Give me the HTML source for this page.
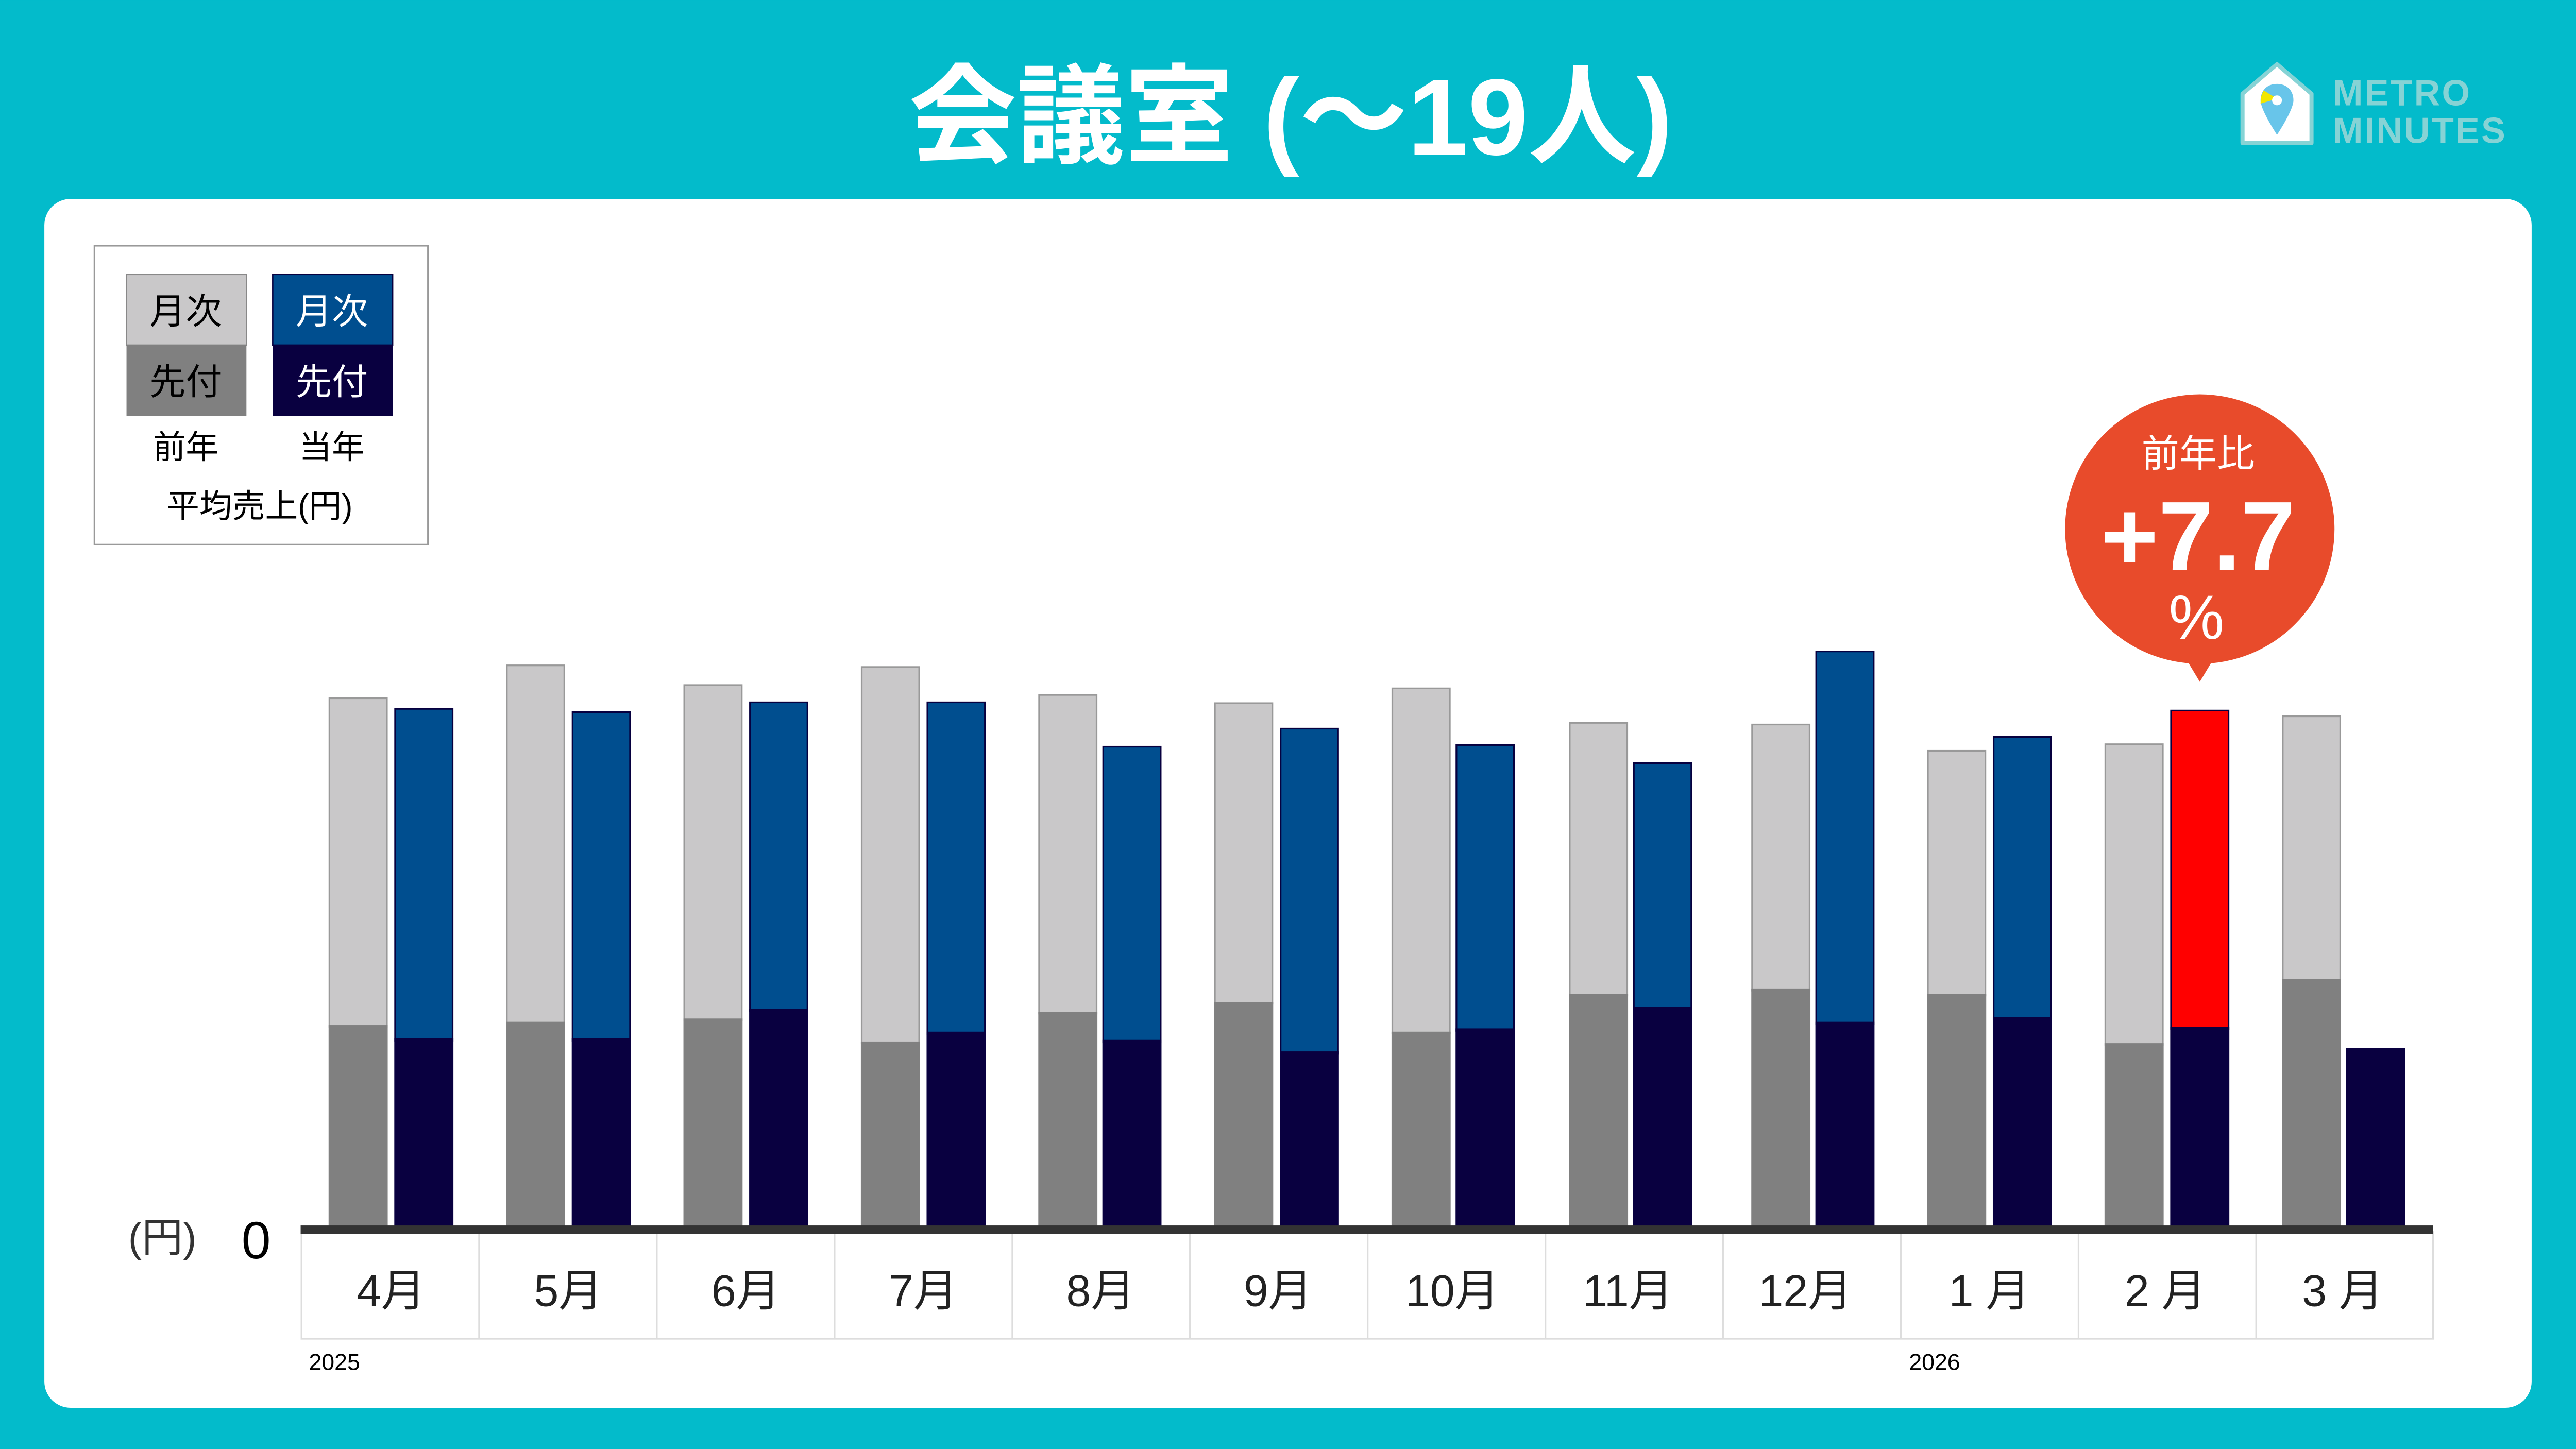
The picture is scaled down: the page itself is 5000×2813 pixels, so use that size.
<!DOCTYPE html>
<html><head><meta charset="utf-8"><style>
html,body{margin:0;padding:0;background:#03BBCB;}
svg{display:block;}
text{font-family:"Liberation Sans","Noto Sans CJK JP",sans-serif;}
</style></head><body>
<svg width="5000" height="2813" viewBox="0 0 1568 882" xmlns="http://www.w3.org/2000/svg">
<rect width="1568" height="882" fill="#03BBCB"/>
<text x="553" y="94" font-size="66" font-weight="bold" fill="#fff" textLength="465" lengthAdjust="spacingAndGlyphs">会議室 (～19人)</text>
<!-- logo -->
<g>
<path d="M1365,57 L1386,39 L1407,57 L1407,87 L1365,87 Z" fill="#fff" stroke="#86D3D5" stroke-width="2.5" stroke-linejoin="round"/>
<path d="M1386,51 c-6,0 -10,4 -10,10 c0,6 10,21 10,21 c0,0 10,-15 10,-21 c0,-6 -4,-10 -10,-10z" fill="#68C5EA"/>
<path d="M1378,55 c-2,3 -2,6 -2,8 l10,-3z" fill="#F2E600"/>
<circle cx="1386" cy="61" r="3" fill="#fff"/>
<text x="1420" y="64" font-size="22" font-weight="bold" fill="#86D3D5" letter-spacing="1">METRO</text>
<text x="1420" y="87" font-size="22" font-weight="bold" fill="#86D3D5" letter-spacing="1">MINUTES</text>
</g>
<rect x="27" y="121" width="1514" height="736" rx="16" fill="#fff"/>
<!-- legend -->
<rect x="57.5" y="149.5" width="203" height="182" fill="#fff" stroke="#999" stroke-width="1"/>
<rect x="77" y="167" width="73" height="43" fill="#C9C8C9" stroke="#888" stroke-width="0.8"/>
<rect x="77" y="210" width="73" height="43" fill="#808080"/>
<rect x="166" y="167" width="73" height="43" fill="#004E8F" stroke="#07003F" stroke-width="0.8"/>
<rect x="166" y="210" width="73" height="43" fill="#090040"/>
<text x="113" y="197" text-anchor="middle" font-size="22" fill="#000">月次</text>
<text x="113" y="240" text-anchor="middle" font-size="22" fill="#000">先付</text>
<text x="202" y="197" text-anchor="middle" font-size="22" fill="#fff">月次</text>
<text x="202" y="240" text-anchor="middle" font-size="22" fill="#fff">先付</text>
<text x="113" y="279" text-anchor="middle" font-size="20" fill="#000">前年</text>
<text x="202" y="279" text-anchor="middle" font-size="20" fill="#000">当年</text>
<text x="158" y="315" text-anchor="middle" font-size="20" fill="#000">平均売上(円)</text>
<!-- bars -->
<g stroke-width="1">
<g fill="#C9C8C9" stroke="#999">
<rect x="200.5" y="425" width="35" height="200"/>
<rect x="308.5" y="405" width="35" height="218"/>
<rect x="416.5" y="417" width="35" height="204"/>
<rect x="524.5" y="406" width="35" height="229"/>
<rect x="632.5" y="423" width="35" height="194"/>
<rect x="739.5" y="428" width="35" height="183"/>
<rect x="847.5" y="419" width="35" height="210"/>
<rect x="955.5" y="440" width="35" height="166"/>
<rect x="1066.5" y="441" width="35" height="162"/>
<rect x="1173.5" y="457" width="35" height="149"/>
<rect x="1281.5" y="453" width="35" height="183"/>
<rect x="1389.5" y="436" width="35" height="161"/>
</g>
<g fill="#808080" stroke="none">
<rect x="200" y="624" width="36" height="124"/>
<rect x="308" y="622" width="36" height="126"/>
<rect x="416" y="620" width="36" height="128"/>
<rect x="524" y="634" width="36" height="114"/>
<rect x="632" y="616" width="36" height="132"/>
<rect x="739" y="610" width="36" height="138"/>
<rect x="847" y="628" width="36" height="120"/>
<rect x="955" y="605" width="36" height="143"/>
<rect x="1066" y="602" width="36" height="146"/>
<rect x="1173" y="605" width="36" height="143"/>
<rect x="1281" y="635" width="36" height="113"/>
<rect x="1389" y="596" width="36" height="152"/>
</g>
<g fill="#004E8F" stroke="#07003F">
<rect x="240.5" y="431.5" width="35" height="202"/>
<rect x="348.5" y="433.5" width="35" height="200"/>
<rect x="456.5" y="427.5" width="35" height="188"/>
<rect x="564.5" y="427.5" width="35" height="202"/>
<rect x="671.5" y="454.5" width="35" height="180"/>
<rect x="779.5" y="443.5" width="35" height="198"/>
<rect x="886.5" y="453.5" width="35" height="174"/>
<rect x="994.5" y="464.5" width="35" height="150"/>
<rect x="1105.5" y="396.5" width="35" height="227"/>
<rect x="1213.5" y="448.5" width="35" height="172"/>
<rect x="1321.5" y="432.5" width="35" height="194" fill="#FF0000"/>
</g>
<g fill="#090040" stroke="none">
<rect x="240" y="632" width="36" height="116"/>
<rect x="348" y="632" width="36" height="116"/>
<rect x="456" y="614" width="36" height="134"/>
<rect x="564" y="628" width="36" height="120"/>
<rect x="671" y="633" width="36" height="115"/>
<rect x="779" y="640" width="36" height="108"/>
<rect x="886" y="626" width="36" height="122"/>
<rect x="994" y="613" width="36" height="135"/>
<rect x="1105" y="622" width="36" height="126"/>
<rect x="1213" y="619" width="36" height="129"/>
<rect x="1321" y="625" width="36" height="123"/>
<rect x="1428" y="638" width="36" height="110"/>
</g>
</g>
<!-- category table -->
<g stroke="#DDDDDD" stroke-width="1" fill="none">
<rect x="183.5" y="750" width="1297.5" height="65"/>
<line x1="291.6" y1="750" x2="291.6" y2="815"/><line x1="399.8" y1="750" x2="399.8" y2="815"/>
<line x1="508" y1="750" x2="508" y2="815"/><line x1="616.2" y1="750" x2="616.2" y2="815"/>
<line x1="724.3" y1="750" x2="724.3" y2="815"/><line x1="832.5" y1="750" x2="832.5" y2="815"/>
<line x1="940.7" y1="750" x2="940.7" y2="815"/><line x1="1048.8" y1="750" x2="1048.8" y2="815"/>
<line x1="1157" y1="750" x2="1157" y2="815"/><line x1="1265.2" y1="750" x2="1265.2" y2="815"/>
<line x1="1373.3" y1="750" x2="1373.3" y2="815"/>
</g>
<rect x="183" y="746" width="1298" height="5" fill="#333"/>
<g font-size="27" fill="#222" text-anchor="middle">
<text x="238" y="795">4月</text><text x="346" y="795">5月</text><text x="454" y="795">6月</text>
<text x="562" y="795">7月</text><text x="670" y="795">8月</text><text x="778" y="795">9月</text>
<text x="884" y="795">10月</text><text x="991" y="795">11月</text><text x="1099" y="795">12月</text>
<text x="1211" y="795">1 月</text><text x="1318" y="795">2 月</text><text x="1426" y="795">3 月</text>
</g>
<text x="188" y="834" font-size="14" fill="#000">2025</text>
<text x="1162" y="834" font-size="14" fill="#000">2026</text>
<text x="78" y="762" font-size="25" fill="#333">(円)</text>
<text x="147" y="766" font-size="32" fill="#000">0</text>
<!-- bubble -->
<circle cx="1339" cy="322" r="82" fill="#E84B2B"/>
<path d="M1330,400 L1339,415 L1348,400 Z" fill="#E84B2B"/>
<text x="1338" y="284" text-anchor="middle" font-size="23" fill="#fff">前年比</text>
<text x="1338" y="347" text-anchor="middle" font-size="60" font-weight="bold" fill="#fff">+7.7</text>
<text x="1337" y="389" text-anchor="middle" font-size="38" fill="#fff">%</text>
</svg>
</body></html>
